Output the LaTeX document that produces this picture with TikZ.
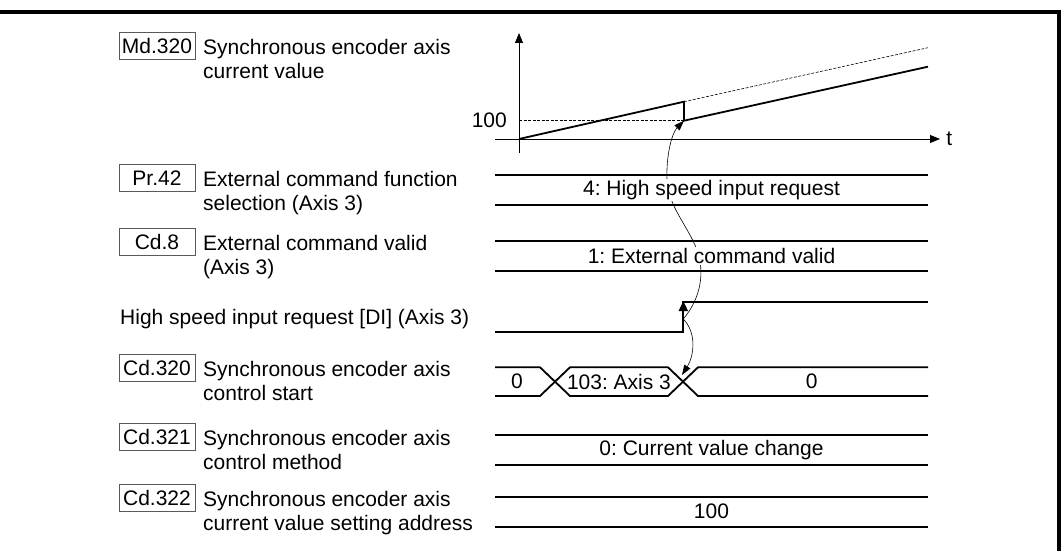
\documentclass[tikz,border=0pt]{standalone}
\usepackage{fontspec}
\setmainfont{Liberation Sans}
\usetikzlibrary{arrows.meta}

\tikzstyle{frame}=[line width=3.5pt]
\tikzstyle{reg}=[draw=black!65, line width=0.8pt, minimum width=76pt, minimum height=27pt, inner sep=0pt]
\tikzstyle{desc}=[anchor=base west, align=left, inner sep=0pt]
\tikzstyle{level}=[line width=1.8pt]
\tikzstyle{val}=[fill=white, inner sep=1pt]
\tikzstyle{axis}=[line width=0.8pt, -{Triangle[length=10pt, width=8pt]}]
\tikzstyle{guide}=[line width=0.6pt, dash pattern=on 3pt off 1.5pt]
\tikzstyle{cause}=[line width=0.6pt, -{Triangle[length=10pt, width=7pt]}]

\begin{document}
\frenchspacing
\begin{tikzpicture}[x=1pt, y=-1pt, font=\fontsize{21}{24}\selectfont]
	\useasboundingbox (0,0) rectangle (1061,551);
	% Frame
	\draw[frame] (0,12) -- (1059,12) -- (1059,551);

	% Register labels (base of a two-line text is its second line)
	\foreach \nm/\y/\lbl/\txt in {md/45.8/Md.320/{Synchronous encoder axis\\current value},
			pr/178/Pr.42/{External command function\\selection (Axis 3)},
			cd/242/Cd.8/{External command valid\\(Axis 3)},
			cs/367.5/Cd.320/{Synchronous encoder axis\\control start},
			cm/436.5/Cd.321/{Synchronous encoder axis\\control method},
			ca/498.3/Cd.322/{Synchronous encoder axis\\current value setting address}}{
		\node[reg] (\nm) at (157,\y) {\lbl};
		\node[desc] (\nm-t) at (203,{\y+32.5}) {\txt};
	}
	\node[desc] (di-t) at (120,324.5) {High speed input request [DI] (Axis 3)};

	% Current value graph
	\coordinate (o) at (519,139);
	\coordinate (pk) at (684,101.7);
	\coordinate (jmp) at (684,120.7);
	\draw[axis] (519,153) -- (519,33);
	\draw[axis] (495,139) -- (940,139) node[right, inner sep=6pt] (t) {t};
	\node[anchor=east, inner sep=0pt] (hund) at (507,120) {100};
	\draw[guide] (519,120.7) -- (jmp);
	\draw[guide] (pk) -- (928,47.7);
	\draw[level] (o) -- (pk) -- (jmp) -- (928,66.7);

	% Trigger arrows
	\coordinate (edge) at (683.3,319);
	\coordinate (sw) at (682,375);
	\draw[cause] (edge) .. controls (701,298) and (705,272) .. (697,250)
		.. controls (688,226) and (668,206) .. (667,180)
		.. controls (666,155) and (672,133) .. (jmp);
	\draw[cause] (edge) .. controls (697,333) and (694,356) .. (sw);

	% Constant rows
	\foreach \nm/\y/\txt in {pr/175/{4: High speed input request},
			cd/241/{1: External command valid},
			cm/435/{0: Current value change},
			ca/496.7/{100}}{
		\draw[level] (495,\y) -- (928,\y);
		\draw[level] (495,{\y+30}) -- (928,{\y+30});
		\node[val] (\nm-v) at (711.5,{\y+15}) {\txt};
	}

	% High speed input request
	\draw[level] (495,331.7) -| (683.3,302.3) -- (928,302.3);
	\draw[level, -{Triangle[length=10pt, width=9pt]}] (683.3,322) -- (683.3,301);

	% Control start
	\draw[level] (495,367.3) -- (540,367.3) -- (570,396) -- (668,396) -- (698,367.3) -- (928,367.3);
	\draw[level] (495,396) -- (540,396) -- (570,367.3) -- (668,367.3) -- (698,396) -- (928,396);
	\node (cs-a) at (517,381.7) {0};
	\node (cs-b) at (619,381.7) {103: Axis 3};
	\node (cs-c) at (811.7,381.7) {0};
\end{tikzpicture}
\end{document}
